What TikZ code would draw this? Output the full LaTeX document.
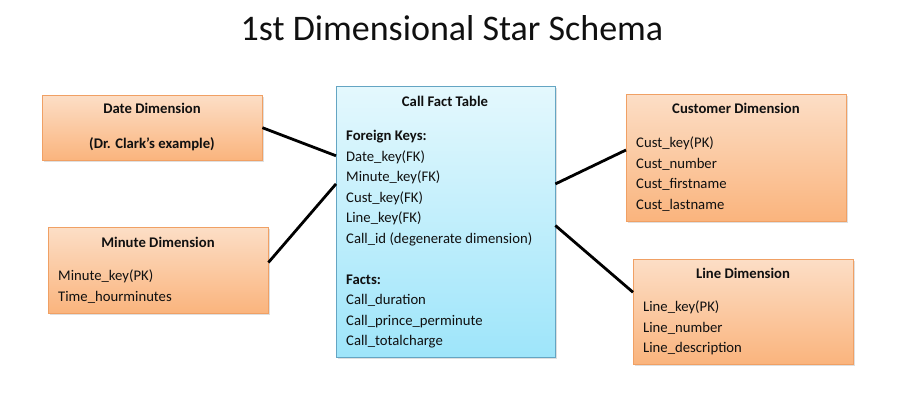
\documentclass[tikz,border=0pt]{standalone}
\usepackage{fontspec}
\setmainfont{Carlito}
\usetikzlibrary{positioning}
\usetikzlibrary{shadows}
\definecolor{cb}{RGB}{0,0,0}
\definecolor{cbt}{RGB}{16,16,16}
\definecolor{odraw}{RGB}{240,160,100}
\definecolor{otop}{RGB}{252,222,198}
\definecolor{obot}{RGB}{250,180,125}
\definecolor{fdraw}{RGB}{100,165,195}
\definecolor{ftop}{RGB}{228,248,253}
\definecolor{fbot}{RGB}{158,229,250}
\tikzstyle{dimbox}=[draw=odraw, top color=otop, bottom color=obot, anchor=north west, drop shadow={opacity=0.25, shadow xshift=2pt, shadow yshift=-2pt}]
\tikzstyle{factbox}=[draw=fdraw, top color=ftop, bottom color=fbot, anchor=north west, drop shadow={opacity=0.25, shadow xshift=2pt, shadow yshift=-2pt}]
\tikzstyle{head}=[cbt, font=\fontsize{14.7}{20.5}\selectfont\bfseries, inner sep=0pt, anchor=base]
\tikzstyle{items}=[cbt, font=\fontsize{14.7}{20.5}\selectfont, align=left, inner sep=0pt, anchor=north west]
\tikzstyle{link}=[cb, line width=2.8pt]

\begin{document}
\begin{tikzpicture}[x=1pt, y=-1pt]
  \useasboundingbox (0,0) rectangle (903,408);
  \node [cbt, font=\fontsize{36}{40}\selectfont, inner sep=0pt, anchor=base] (title) at (452,40) {1st Dimensional Star Schema};

  \node [dimbox, minimum width=220pt, minimum height=65pt] (date) at (42,95) {};
  \node [head] (datehead) at (152,113) {Date Dimension};
  \node [head] (datesub) at (152,148) {(Dr. Clark’s example)};

  \node [dimbox, minimum width=220pt, minimum height=86pt] (minute) at (48,227) {};
  \node [head] (minutehead) at (158,247) {Minute Dimension};
  \node [items] (minuteitems) at (58,270) {Minute\_key(PK)\\Time\_hourminutes};

  \node [factbox, minimum width=219pt, minimum height=271pt] (fact) at (336,86) {};
  \node [head] (facthead) at (445,106) {Call Fact Table};
  \node [items] (factitems) at (346,130) {\textbf{Foreign Keys:}\\Date\_key(FK)\\Minute\_key(FK)\\Cust\_key(FK)\\Line\_key(FK)\\Call\_id (degenerate dimension)\\[20.5pt]\textbf{Facts:}\\Call\_duration\\Call\_prince\_perminute\\Call\_totalcharge};

  \node [dimbox, minimum width=220pt, minimum height=127pt] (cust) at (626,94) {};
  \node [head] (custhead) at (736,113) {Customer Dimension};
  \node [items] (custitems) at (636,137) {Cust\_key(PK)\\Cust\_number\\Cust\_firstname\\Cust\_lastname};

  \node [dimbox, minimum width=220pt, minimum height=105pt] (line) at (633,259) {};
  \node [head] (linehead) at (743,278) {Line Dimension};
  \node [items] (lineitems) at (643,301) {Line\_key(PK)\\Line\_number\\Line\_description};

  \draw [link] (date.east) -- (fact.149);
  \draw [link] (minute.4) -- (fact.161);
  \draw [link] (fact.19) -- (cust.176);
  \draw [link] (fact.-2) -- (line.170);
\end{tikzpicture}
\end{document}
